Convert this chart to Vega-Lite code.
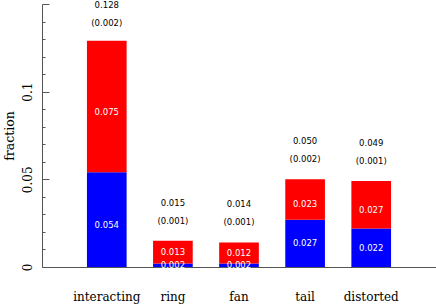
{
  "$schema": "https://vega.github.io/schema/vega-lite/v6.json",
  "width": 394,
  "height": 263,
  "autosize": {"type": "none"},
  "padding": {"left": 42, "top": 4, "right": 0, "bottom": 39},
  "config": {
    "view": {"stroke": null},
    "axis": {"domainColor": "#555", "tickColor": "#555", "labelFont": "DejaVu Serif", "titleFont": "DejaVu Serif", "labelColor": "black", "titleColor": "black", "grid": false, "titleFontWeight": "normal"}
  },
  "datasets": {
    "parts": [
      {"category": "interacting", "part": "lower", "value": 0.054},
      {"category": "interacting", "part": "upper", "value": 0.075},
      {"category": "ring", "part": "lower", "value": 0.002},
      {"category": "ring", "part": "upper", "value": 0.013},
      {"category": "fan", "part": "lower", "value": 0.002},
      {"category": "fan", "part": "upper", "value": 0.012},
      {"category": "tail", "part": "lower", "value": 0.027},
      {"category": "tail", "part": "upper", "value": 0.023},
      {"category": "distorted", "part": "lower", "value": 0.022},
      {"category": "distorted", "part": "upper", "value": 0.027}
    ],
    "totals": [
      {"category": "interacting", "total": 0.128, "err": 0.002},
      {"category": "ring", "total": 0.015, "err": 0.001},
      {"category": "fan", "total": 0.014, "err": 0.001},
      {"category": "tail", "total": 0.050, "err": 0.002},
      {"category": "distorted", "total": 0.049, "err": 0.001}
    ]
  },
  "encoding": {
    "x": {
      "field": "category", "type": "nominal", "sort": null,
      "scale": {"domain": ["interacting", "ring", "fan", "tail", "distorted"], "paddingInner": 0.4, "paddingOuter": 0.68},
      "axis": {"title": null, "labelAngle": 0, "ticks": false, "labelPadding": 24, "labelFontSize": 12}
    }
  },
  "layer": [
    {
      "data": {"name": "parts"},
      "transform": [
        {"stack": "value", "groupby": ["category"], "sort": [{"field": "part", "order": "ascending"}], "as": ["v0", "v1"]}
      ],
      "mark": {"type": "bar"},
      "encoding": {
        "y": {
          "field": "v0", "type": "quantitative",
          "scale": {"domain": [0, 0.15], "nice": false, "zero": true},
          "axis": {
            "title": "fraction", "titleFontSize": 12.5, "titlePadding": 1,
            "values": [0, 0.01, 0.02, 0.03, 0.04, 0.05, 0.06, 0.07, 0.08, 0.09, 0.1, 0.11, 0.12, 0.13, 0.14, 0.15],
            "labelExpr": "datum.label == '0' || datum.label == '0.05' || datum.label == '0.1' ? datum.label : ''",
            "format": "~g",
            "labelOverlap": false,
            "tickSize": {"condition": {"test": "datum.label == '0' || datum.label == '0.05' || datum.label == '0.1' || datum.label == '0.15'", "value": -7}, "value": -3},
            "labelAngle": -90, "labelPadding": 15, "labelFontSize": 12
          }
        },
        "y2": {"field": "v1"},
        "color": {"field": "part", "type": "nominal", "scale": {"domain": ["lower", "upper"], "range": ["#0000ff", "#ff0000"]}, "legend": null}
      }
    },
    {
      "data": {"name": "parts"},
      "transform": [
        {"stack": "value", "groupby": ["category"], "sort": [{"field": "part", "order": "ascending"}], "as": ["v0", "v1"]},
        {"calculate": "(datum.v0 + datum.v1) / 2", "as": "mid"}
      ],
      "mark": {"type": "text", "color": "white", "font": "DejaVu Sans", "fontSize": 8.5, "baseline": "middle", "dy": {"expr": "datum.v1 > 0.03 ? 5 : 0"}},
      "encoding": {
        "y": {"field": "mid", "type": "quantitative",
          "axis": {
            "title": "fraction", "titleFontSize": 12.5, "titlePadding": 1,
            "values": [0, 0.01, 0.02, 0.03, 0.04, 0.05, 0.06, 0.07, 0.08, 0.09, 0.1, 0.11, 0.12, 0.13, 0.14, 0.15],
            "labelExpr": "datum.label == '0' || datum.label == '0.05' || datum.label == '0.1' ? datum.label : ''",
            "format": "~g",
            "labelOverlap": false,
            "tickSize": {"condition": {"test": "datum.label == '0' || datum.label == '0.05' || datum.label == '0.1' || datum.label == '0.15'", "value": -7}, "value": -3},
            "labelAngle": -90, "labelPadding": 15, "labelFontSize": 12
          }},
        "text": {"field": "value", "type": "quantitative", "format": ".3f"}
      }
    },
    {
      "data": {"name": "totals"},
      "mark": {"type": "text", "color": "black", "font": "DejaVu Sans", "fontSize": 8.5, "baseline": "middle", "dy": -38},
      "encoding": {
        "y": {"field": "total", "type": "quantitative",
          "axis": {
            "title": "fraction", "titleFontSize": 12.5, "titlePadding": 1,
            "values": [0, 0.01, 0.02, 0.03, 0.04, 0.05, 0.06, 0.07, 0.08, 0.09, 0.1, 0.11, 0.12, 0.13, 0.14, 0.15],
            "labelExpr": "datum.label == '0' || datum.label == '0.05' || datum.label == '0.1' ? datum.label : ''",
            "format": "~g",
            "labelOverlap": false,
            "tickSize": {"condition": {"test": "datum.label == '0' || datum.label == '0.05' || datum.label == '0.1' || datum.label == '0.15'", "value": -7}, "value": -3},
            "labelAngle": -90, "labelPadding": 15, "labelFontSize": 12
          }},
        "text": {"field": "total", "type": "quantitative", "format": ".3f"}
      }
    },
    {
      "data": {"name": "totals"},
      "transform": [{"calculate": "'(' + format(datum.err, '.3f') + ')'", "as": "errLabel"}],
      "mark": {"type": "text", "color": "black", "font": "DejaVu Sans", "fontSize": 8.5, "baseline": "middle", "dy": -20},
      "encoding": {
        "y": {"field": "total", "type": "quantitative",
          "axis": {
            "title": "fraction", "titleFontSize": 12.5, "titlePadding": 1,
            "values": [0, 0.01, 0.02, 0.03, 0.04, 0.05, 0.06, 0.07, 0.08, 0.09, 0.1, 0.11, 0.12, 0.13, 0.14, 0.15],
            "labelExpr": "datum.label == '0' || datum.label == '0.05' || datum.label == '0.1' ? datum.label : ''",
            "format": "~g",
            "labelOverlap": false,
            "tickSize": {"condition": {"test": "datum.label == '0' || datum.label == '0.05' || datum.label == '0.1' || datum.label == '0.15'", "value": -7}, "value": -3},
            "labelAngle": -90, "labelPadding": 15, "labelFontSize": 12
          }},
        "text": {"field": "errLabel", "type": "nominal"}
      }
    }
  ]
}
